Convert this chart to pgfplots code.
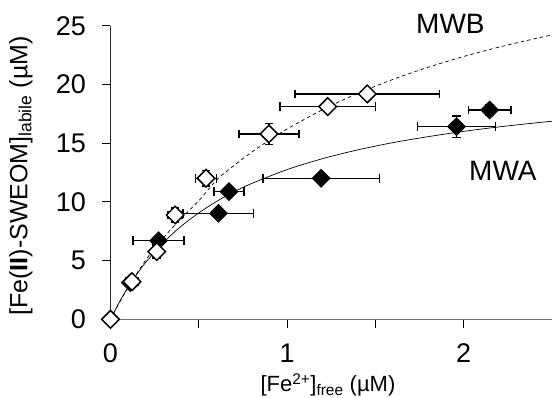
\documentclass[border=0pt]{standalone}
\usepackage{fontspec}
\setmainfont{Liberation Sans}
\usepackage{pgfplots}
\pgfplotsset{compat=1.18}
\usepackage{pgfplotstable}
\pgfplotstableread{
x y ex ey
0 0 0 0
0.122 3.21 0.035 0.3
0.262 5.77 0 0.55
0.366 8.89 0.04 0.6
0.541 12.02 0.06 0.65
0.897 15.80 0.17 0.9
1.230 18.13 0.27 0
1.454 19.21 0.41 0
}\mwb
\pgfplotstableread{
x y ex ey
0 0 0 0
0.112 3.12 0 0
0.272 6.70 0.144 0
0.611 9.03 0.20 0
0.671 10.88 0.086 0
1.193 12.02 0.33 0
1.959 16.42 0.222 0.9
2.147 17.84 0.12 0.45
}\mwa
\begin{document}
\begin{tikzpicture}
\begin{axis}[
  at={(0,0)}, anchor=south west,
  scale only axis, width=441.5pt, height=293.3pt,
  xmin=0, xmax=2.5, ymin=0, ymax=25,
  axis x line*=bottom, axis y line*=left,
  x axis line style={black!55, line width=1pt},
  y axis line style={black!85, line width=1.1pt},
  tick align=outside, major tick length=8.5pt,
  every tick/.style={black, line width=1pt},
  xtick={0,0.5,1,1.5,2}, xticklabels={0,,1,,2},
  ytick={0,5,10,15,20,25},
  /pgf/number format/assume math mode=true,
  ticklabel style={font=\fontsize{27}{27}\selectfont, inner sep=0pt},
  yticklabel style={anchor=east, xshift=-16pt},
  xticklabel style={anchor=north, yshift=-16pt},
  clip=false,
]
\addplot[black, line width=0.7pt, smooth] coordinates {
(0,0) (0.05,1.46) (0.1,2.74) (0.15,3.86) (0.2,4.86) (0.3,6.55) (0.4,7.93) (0.5,9.07) (0.6,10.04) (0.7,10.87) (0.8,11.58) (1.0,12.76) (1.2,13.69) (1.4,14.44) (1.6,15.06) (1.8,15.57) (2.0,16.02) (2.2,16.40) (2.4,16.73) (2.5,16.88)};
\addplot[black, line width=0.7pt, dash pattern=on 3.5pt off 3pt, smooth] coordinates {
(0,0) (0.05,1.41) (0.1,2.72) (0.2,5.06) (0.3,6.95) (0.4,8.6) (0.5,10.1) (0.6,11.86) (0.7,13.12) (0.8,14.25) (0.9,15.28) (1.0,16.22) (1.2,17.86) (1.4,19.25) (1.6,20.45) (1.8,21.49) (2.0,22.40) (2.2,23.20) (2.4,23.91) (2.5,24.24)};
\addplot[only marks, mark=square*, mark size=6.2pt,
  mark options={rotate=45, fill=black, draw=black, line width=1pt},
  error bars/.cd, x dir=both, x explicit, y dir=both, y explicit,
  error bar style={black, line width=1.4pt},
  error mark options={rotate=90, mark size=4.3pt, line width=1.4pt}]
  table[x=x, y=y, x error=ex, y error=ey]{\mwa};
\addplot[only marks, mark=square*, mark size=6.2pt,
  mark options={rotate=45, fill=white, draw=black, line width=1.5pt},
  error bars/.cd, x dir=both, x explicit, y dir=both, y explicit,
  error bar style={black, line width=1.4pt},
  error mark options={rotate=90, mark size=4.3pt, line width=1.4pt}]
  table[x=x, y=y, x error=ex, y error=ey]{\mwb};
\node[anchor=base, font=\fontsize{28}{28}\selectfont, inner sep=0pt] at (axis cs:1.925,24.38) {MWB};
\node[anchor=base, font=\fontsize{28}{28}\selectfont, inner sep=0pt] at (axis cs:2.222,11.87) {MWA};
\node[rotate=90, anchor=center, font=\fontsize{25}{25}\selectfont, inner sep=0pt] at (axis description cs:-0.203,0.4886) {[Fe(\textbf{II})-SWEOM]\textsubscript{labile} (µM)};
\node[anchor=base, font=\fontsize{22}{22}\selectfont, inner sep=0pt] at (axis description cs:0.4926,-0.247) {[Fe\textsuperscript{2+}]\textsubscript{free} (µM)};
\end{axis}
\pgfresetboundingbox
\path[use as bounding box] (-110.5pt,-78.7pt) rectangle (441.5pt,319.3pt);
\end{tikzpicture}
\end{document}
